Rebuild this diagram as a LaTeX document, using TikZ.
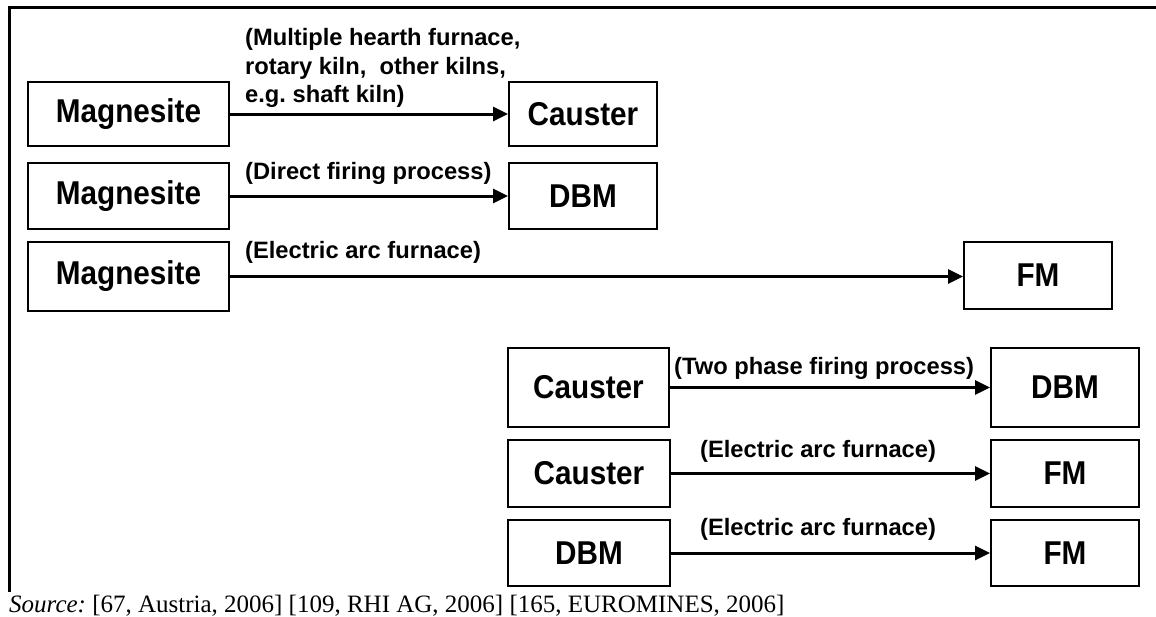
\documentclass[tikz,border=0pt]{standalone}
\usepackage{fontspec}
\setmainfont{Liberation Serif}
\setsansfont{Liberation Sans}
\newfontfamily\boxfont[FakeStretch=0.9]{Liberation Sans}
\usetikzlibrary{arrows.meta}
\frenchspacing
\begin{document}
\begin{tikzpicture}[x=1pt,y=-1pt,
  box/.style={draw, line width=2pt, inner sep=0pt, anchor=north west,
    font=\boxfont\bfseries\fontsize{33}{38}\selectfont},
  lbl/.style={font=\sffamily\bfseries\fontsize{23.7}{28.5}\selectfont, inner sep=0pt, anchor=west, align=left},
  conn/.style={line width=3pt, -{Triangle[length=15pt,width=14pt]}},
  frame/.style={line width=3pt}]
\useasboundingbox (0,0) rectangle (1156,616);
\fill[white] (0,0) rectangle (1156,616);
% frame (top and left edges)
\draw[frame] (9,592) -- (9,7) -- (1157,7);
% row 1
\node[box, minimum width=201pt, minimum height=64pt] (m1) at (27,81) {Magnesite};
\node[box, minimum width=148pt, minimum height=64pt] (c1) at (508,81) {Causter};
\draw[conn] (m1.east) -- (c1.west);
\node[lbl] (l1) at (245,68) {(Multiple hearth furnace,\\rotary kiln,\ \ other kilns,\\e.g.\ shaft kiln)};
% row 2
\node[box, minimum width=201pt, minimum height=66pt] (m2) at (27,162) {Magnesite};
\node[box, minimum width=148pt, minimum height=66pt] (d1) at (508,162) {DBM};
\draw[conn] (m2.east) -- (d1.west);
\node[lbl] (l2) at (245,173) {(Direct firing process)};
% row 3
\node[box, minimum width=201pt, minimum height=69pt] (m3) at (27,241) {Magnesite};
\node[box, minimum width=148pt, minimum height=67pt] (f1) at (963,241) {FM};
\draw[conn] (m3.east) -- (f1.west |- m3.east);
\node[lbl] (l3) at (245,252) {(Electric arc furnace)};
% row 4
\node[box, minimum width=161pt, minimum height=79pt] (c2) at (507,347) {Causter};
\node[box, minimum width=148pt, minimum height=79pt] (d2) at (990,347) {DBM};
\draw[conn] (c2.east) -- (d2.west);
\node[lbl] (l4) at (674,368) {(Two phase firing process)};
% row 5
\node[box, minimum width=162pt, minimum height=67pt] (c3) at (507,439) {Causter};
\node[box, minimum width=148pt, minimum height=67pt] (f2) at (990,439) {FM};
\draw[conn] (c3.east) -- (f2.west);
\node[lbl] (l5) at (700,451) {(Electric arc furnace)};
% row 6
\node[box, minimum width=162pt, minimum height=66pt] (d3) at (507,519) {DBM};
\node[box, minimum width=148pt, minimum height=66pt] (f3) at (990,519) {FM};
\draw[conn] (d3.east) -- (f3.west);
\node[lbl] (l6) at (700,529) {(Electric arc furnace)};
% source
\node[anchor=base west, inner sep=0pt, font=\fontsize{25}{28}\selectfont] (src) at (9,612)
  {\textit{Source:} [67, Austria, 2006] [109, RHI AG, 2006] [165, EUROMINES, 2006]};
\end{tikzpicture}
\end{document}
